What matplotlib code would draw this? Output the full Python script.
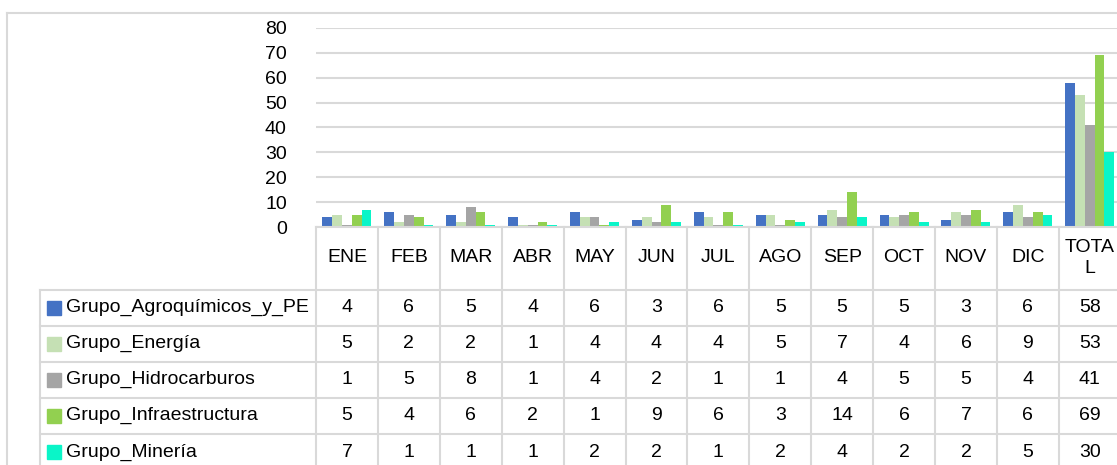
import numpy as np
import matplotlib.pyplot as plt
from matplotlib.transforms import blended_transform_factory
from matplotlib.lines import Line2D
from matplotlib.patches import Rectangle

# data
months = ['ENE', 'FEB', 'MAR', 'ABR', 'MAY', 'JUN', 'JUL', 'AGO', 'SEP', 'OCT', 'NOV', 'DIC', 'TOTA\nL']
series = ['Grupo_Agroquímicos_y_PE', 'Grupo_Energía', 'Grupo_Hidrocarburos',
          'Grupo_Infraestructura', 'Grupo_Minería']
agro = [4, 6, 5, 4, 6, 3, 6, 5, 5, 5, 3, 6, 58]
energia = [5, 2, 2, 1, 4, 4, 4, 5, 7, 4, 6, 9, 53]
hidro = [1, 5, 8, 1, 4, 2, 1, 1, 4, 5, 5, 4, 41]
infra = [5, 4, 6, 2, 1, 9, 6, 3, 14, 6, 7, 6, 69]
mineria = [7, 1, 1, 1, 2, 2, 1, 2, 4, 2, 2, 5, 30]
yticks = [0, 10, 20, 30, 40, 50, 60, 70, 80]

values = [agro, energia, hidro, infra, mineria]
colors = ['#4472C4', '#C5E0B4', '#A5A5A5', '#92D050', '#0AF5C8']
grid_c = '#d9d9d9'
fam = ['Liberation Sans', 'DejaVu Sans']
fs = 14

W, H = 1117, 465
fig = plt.figure(figsize=(W / 100, H / 100), dpi=100)

def fx(px):
    return px / W

def fy(py):
    return 1 - py / H

# plot area
col_w = 61.9
ax = fig.add_axes([fx(316), fy(227), 13 * col_w / W, (227 - 28) / H])
x = np.arange(len(months))
bw = 0.158
for i, (vals, c) in enumerate(zip(values, colors)):
    ax.bar(x + (i - 2) * bw, vals, width=bw, color=c, zorder=3)

ax.set_xlim(-0.5, len(months) - 0.5)
ax.set_ylim(0, 80)
ax.set_yticks(yticks)
ax.set_yticklabels([str(t) for t in yticks], fontfamily=fam, fontsize=fs)
ax.tick_params(axis='y', length=0, pad=21)
ax.set_xticks([])
for s in ax.spines.values():
    s.set_visible(False)
ax.grid(axis='y', color=grid_c, lw=1.5, zorder=0)
ax.patch.set_alpha(0)

# outer chart border
fig.add_artist(Line2D([fx(7), fx(7)], [fy(13), fy(470)], color=grid_c, lw=1.5))
fig.add_artist(Line2D([fx(7), 1.0], [fy(13), fy(13)], color=grid_c, lw=1.5))

# data table
bt = blended_transform_factory(ax.transData, fig.transFigure)
row_tops = [227, 289.5, 325.7, 361.7, 397.7, 434, 470]

# vertical lines between columns
for k in range(len(months) + 1):
    fig.add_artist(Line2D([k - 0.5, k - 0.5], [fy(227), fy(470)], color=grid_c,
                          lw=1.5, transform=bt))
# header top line
fig.add_artist(Line2D([-0.5, len(months) - 0.5], [fy(227), fy(227)], color=grid_c,
                      lw=1.5, transform=bt))
# legend column left line
fig.add_artist(Line2D([fx(40), fx(40)], [fy(289.5), fy(470)], color=grid_c, lw=1.5))
# row lines
for r in row_tops[1:-1]:
    fig.add_artist(Line2D([fx(40), 1.0], [fy(r), fy(r)], color=grid_c, lw=1.5))

# header labels
for k, m in enumerate(months):
    fig.text(k, fy(258), m, transform=bt, ha='center', va='center',
             fontfamily=fam, fontsize=fs, linespacing=1.35)

# rows
for j, (name, vals, c) in enumerate(zip(series, values, colors)):
    yc = (row_tops[j + 1] + row_tops[j + 2]) / 2
    fig.add_artist(Rectangle((fx(47), fy(yc + 7)), 14 / W, 14 / H, color=c))
    fig.text(fx(66), fy(yc), name, ha='left', va='center',
             fontfamily=fam, fontsize=fs)
    for k, v in enumerate(vals):
        fig.text(k, fy(yc), str(v), transform=bt, ha='center', va='center',
                 fontfamily=fam, fontsize=fs)

fig.savefig('out.png', dpi=100)
